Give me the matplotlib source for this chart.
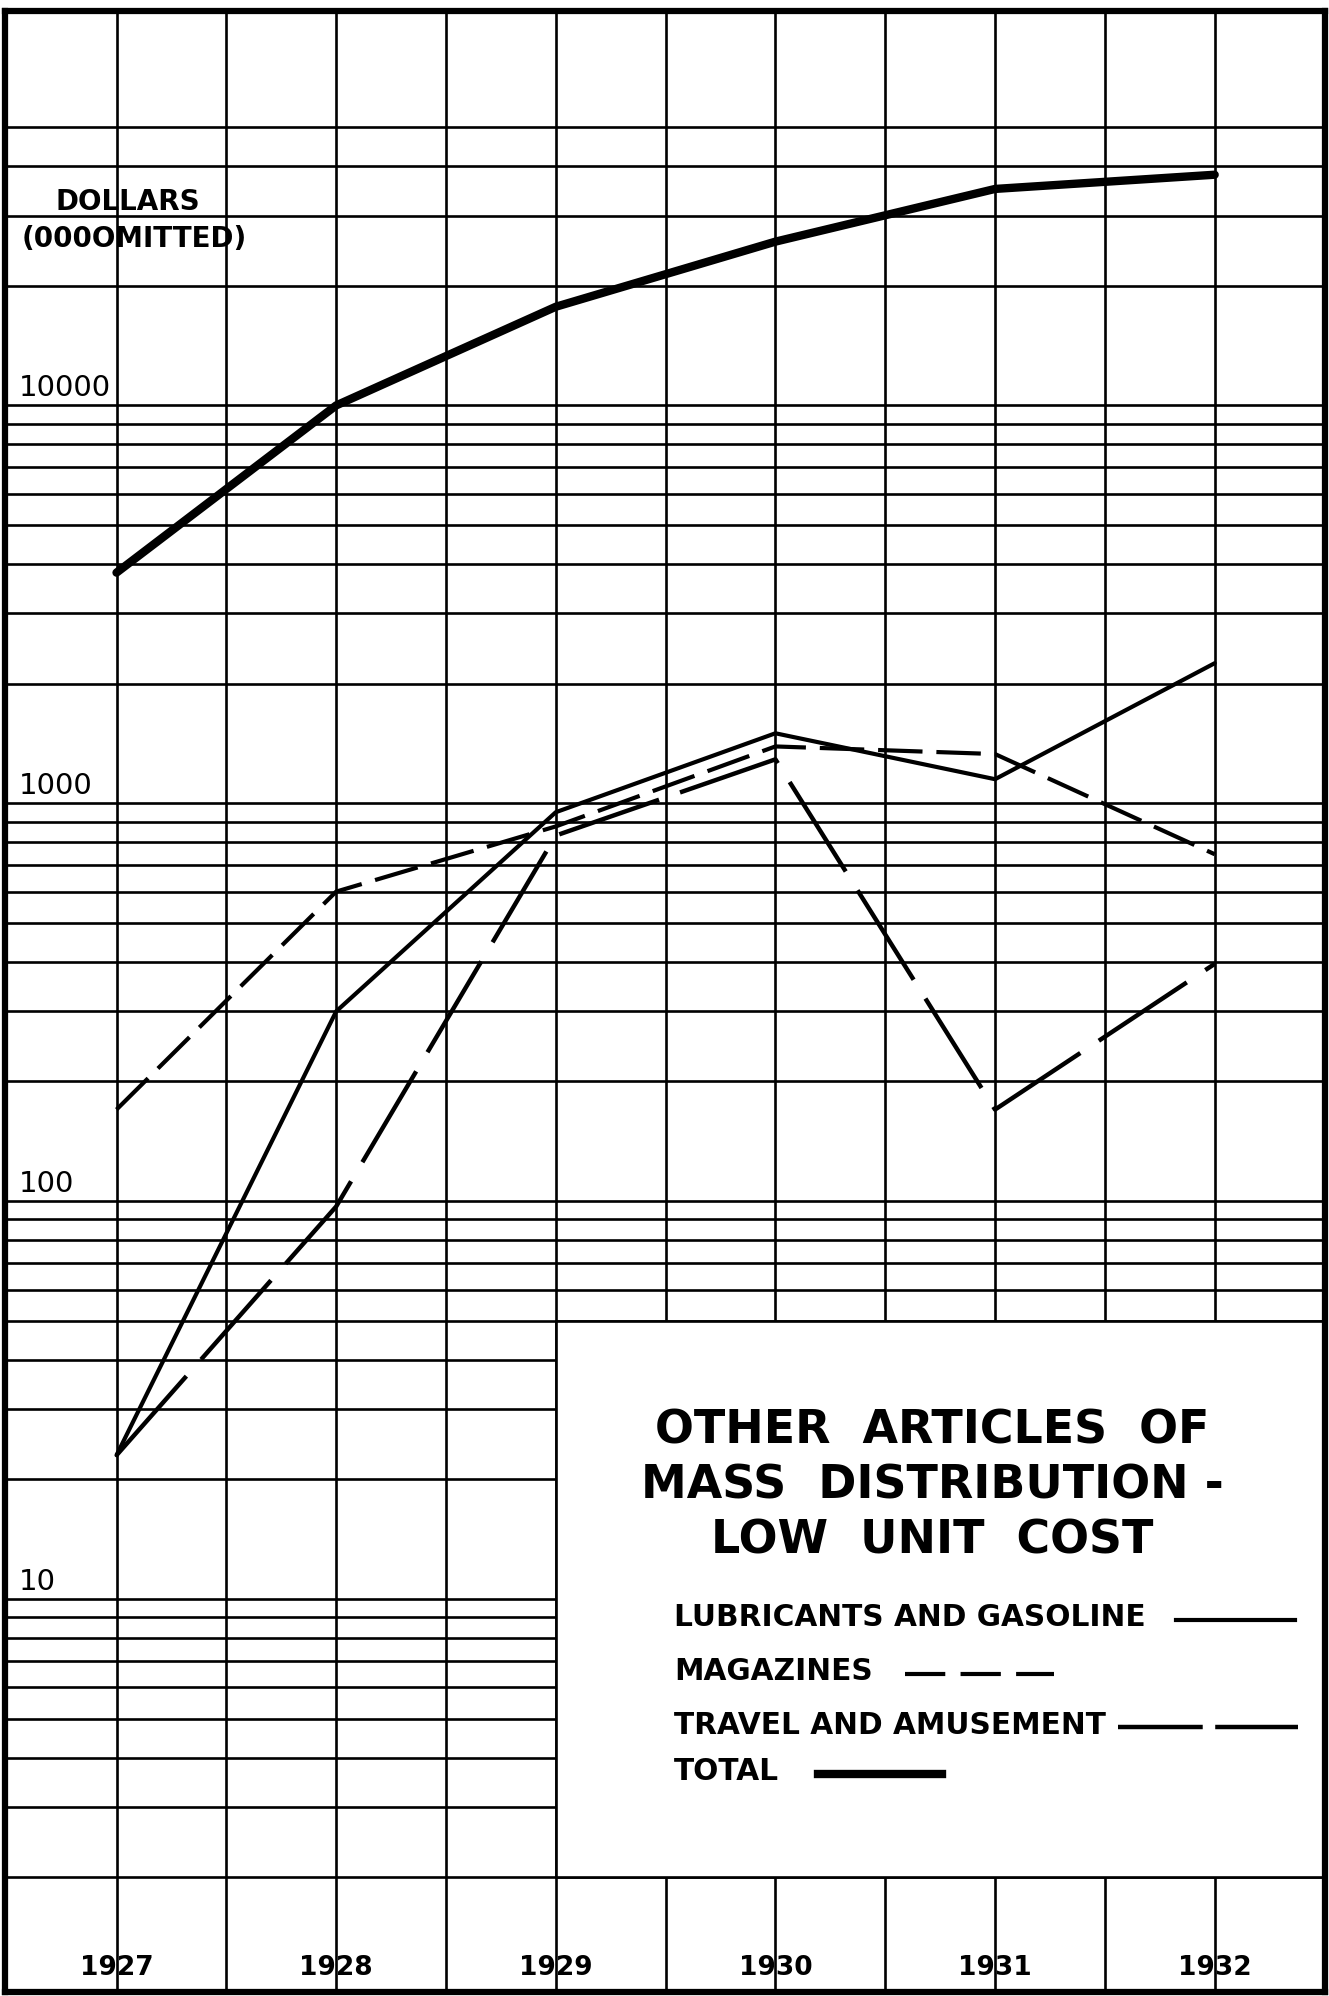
import numpy as np
import matplotlib.pyplot as plt
from matplotlib.lines import Line2D
from matplotlib.patches import Rectangle

# data (dollars, 000 omitted)
years = [1927, 1928, 1929, 1930, 1931, 1932]
lubricants = [23, 300, 950, 1500, 1150, 2250]
magazines = [170, 600, 875, 1390, 1330, 745]
travel = [23, 97, 830, 1290, 170, 395]
total = [3800, 10000, 17700, 25800, 35000, 38000]

y_labels = ['10000', '1000', '100', '10']
y_label_vals = [10000, 1000, 100, 10]

W, H = 1329, 1996


def fx(px):
    return px / W


def fy(py):
    return 1 - py / H


plt.rcParams['font.family'] = ['DejaVu Sans']
plt.rcParams['lines.scale_dashes'] = False

fig = plt.figure(figsize=(W / 100, H / 100), dpi=100)
ax = fig.add_axes([fx(4.5), fy(1992), fx(1324.5) - fx(4.5), fy(11) - fy(1992)])

ax.set_yscale('log')
ax.set_xlim(1926.49, 1932.5)
ax.set_ylim(1.03, 98000)

# graph paper: half-year verticals, log rulings 2..50000
grid_x = np.arange(1927, 1932.01, 0.5)
grid_y = [m * 10 ** k for k in range(0, 5) for m in range(1, 10)
          if 2 <= m * 10 ** k <= 50000]
ax.set_xticks(grid_x)
ax.set_yticks(grid_y)
ax.minorticks_off()
ax.tick_params(length=0, labelleft=False, labelbottom=False)
ax.set_axisbelow(True)
ax.grid(True, color='black', lw=1.9)
for s in ax.spines.values():
    s.set_linewidth(4.5)

# blank panel for the title / key
ax.add_patch(Rectangle((1929, 2), 3.6, 48, facecolor='white',
                       edgecolor='black', lw=1.9, zorder=1))

# series
ax.plot(years, total, color='black', lw=6.0, solid_capstyle='round', zorder=3)
ax.plot(years, lubricants, color='black', lw=3.0, solid_capstyle='round', zorder=3)
ax.plot(years, magazines, color='black', lw=3.0, ls=(0, (32, 10)), zorder=3)
ax.plot(years, travel, color='black', lw=3.2, ls=(0, (76, 16)), zorder=3)

# labels
for lab, v in zip(y_labels, y_label_vals):
    ax.annotate(lab, xy=(0.011, v), xycoords=ax.get_yaxis_transform(),
                textcoords='offset pixels', xytext=(0, 9),
                ha='left', va='baseline', fontsize=21)

for yr in years:
    ax.text(yr, 0.012, str(yr), transform=ax.get_xaxis_transform(),
            ha='center', va='center', fontsize=19, fontweight='bold')

fig.text(fx(128), fy(202), 'DOLLARS', ha='center', va='center',
         fontsize=20, fontweight='bold')
fig.text(fx(134), fy(239), '(000OMITTED)', ha='center', va='center',
         fontsize=20, fontweight='bold')

title = ['OTHER  ARTICLES  OF', 'MASS  DISTRIBUTION -', 'LOW  UNIT  COST']
for t, yc in zip(title, [1431, 1486, 1541]):
    fig.text(fx(932), fy(yc), t, ha='center', va='center',
             fontsize=33, fontweight='bold')

# key
key = [('LUBRICANTS AND GASOLINE', 1618, 1176, 1295, 3.0, '-'),
       ('MAGAZINES', 1672, 905, 1054, 3.0, (0, (29, 11))),
       ('TRAVEL AND AMUSEMENT', 1725, 1118, 1298, 3.2, (0, (61, 9))),
       ('TOTAL', 1772, 818, 942, 6.0, '-')]
for name, yc, x0, x1, lw, ls in key:
    fig.text(fx(674), fy(yc), name, ha='left', va='center',
             fontsize=21.3, fontweight='bold')
    fig.add_artist(Line2D([fx(x0), fx(x1)], [fy(yc + 2), fy(yc + 2)],
                          transform=fig.transFigure, color='black',
                          lw=lw, ls=ls))

fig.savefig('out.png', dpi=100, facecolor='white')
